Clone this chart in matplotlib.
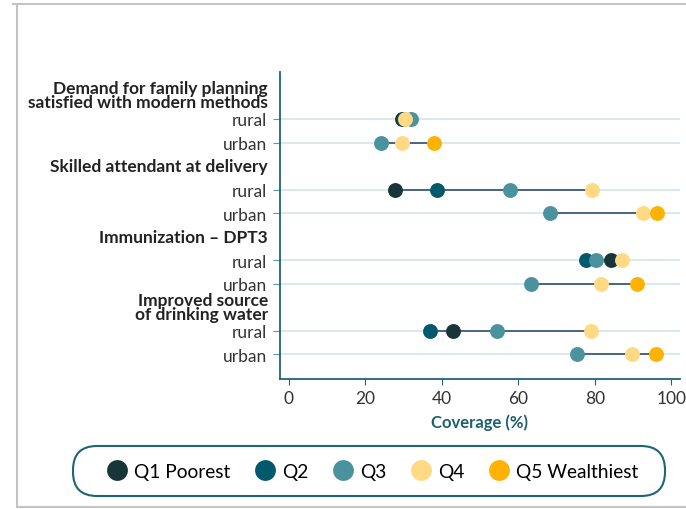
import numpy as np
import matplotlib.pyplot as plt
from matplotlib.lines import Line2D
from matplotlib.patches import FancyBboxPatch

plt.rcParams['font.family'] = ['Lato', 'DejaVu Sans']

# indicator groups and row labels
groups = ["Demand for family planning\nsatisfied with modern methods",
          "Skilled attendant at delivery",
          "Immunization \u2013 DPT3",
          "Improved source\nof drinking water"]
areas = ["rural", "urban"]
quintiles = ["Q1 Poorest", "Q2", "Q3", "Q4", "Q5 Wealthiest"]
colors = ["#18363a", "#005a6b", "#4b929f", "#ffd983", "#ffb200"]

# coverage (%) per row: rural rows have Q1-Q4, urban rows Q3-Q5 (nan = no value)
nan = np.nan
q1 = [29.5, nan, 27.7, nan, 84.1, nan, 43.0, nan]
q2 = [30.0, nan, 38.7, nan, 77.6, nan, 36.8, nan]
q3 = [31.8, 24.0, 57.7, 68.2, 80.4, 63.2, 54.5, 75.3]
q4 = [30.3, 29.5, 79.2, 92.6, 87.2, 81.7, 78.9, 89.6]
q5 = [nan, 38.0, nan, 96.2, nan, 91.0, nan, 95.9]
series = [q1, q2, q3, q4, q5]

fig = plt.figure(figsize=(6.86, 5.10), dpi=100)
ax = fig.add_axes([0.408, 0.255, 0.583, 0.602])

teal = "#1d6675"
# row positions: each group takes a header slot then rural, urban
ypos = []
for g in range(len(groups)):
    ypos += [g * 3 + 1, g * 3 + 2]
ypos = np.array(ypos)

vals = np.array(series)
for i, y in enumerate(ypos):
    row = vals[:, i]
    ax.axhline(y, color="#dbe8ee", lw=1.4, zorder=0)
    ax.plot([np.nanmin(row), np.nanmax(row)], [y, y], color="#2f4f6f", lw=1.2, zorder=1)

for k, s in enumerate(series):
    ax.scatter(s, ypos, s=115, color=colors[k], zorder=2 + k, linewidths=0)

ax.set_xlim(-2.35, 102.2)
ax.set_ylim(12.05, -1)
ax.set_yticks(ypos)
ax.set_yticklabels(areas * len(groups))
ax.set_xticks([0, 20, 40, 60, 80, 100])
ax.tick_params(axis='y', length=5, color="#5a9aa6", labelsize=12.5, labelcolor="#333333", pad=4)
ax.tick_params(axis='x', length=4, color=teal, labelsize=12.5, labelcolor="#333333", pad=4)
for side in ["top", "right"]:
    ax.spines[side].set_visible(False)
for side in ["left", "bottom"]:
    ax.spines[side].set_color(teal)
    ax.spines[side].set_linewidth(1.3)

ax.set_xlabel("Coverage (%)", fontsize=12, fontweight="bold", color="#1b6070", labelpad=5)

for g, name in enumerate(groups):
    ax.annotate(name, xy=(0, g * 3), xycoords=('axes fraction', 'data'),
                xytext=(-12, 0), textcoords='offset pixels', ha='right', va='center',
                fontsize=12.5, fontweight='bold', color="#222222", linespacing=0.85)

handles = [Line2D([], [], marker='o', ls='', markersize=15, color=c, markeredgewidth=0) for c in colors]
leg = fig.legend(handles, quintiles, loc='center', bbox_to_anchor=(0.542, 0.0745), ncol=5,
                 fontsize=13.8, frameon=False, handletextpad=0.3, columnspacing=1.2,
                 handlelength=1.2)

# rounded pill-shaped frame around the legend
pill = FancyBboxPatch((0.73, 0.13), 5.92, 0.50, boxstyle="round,pad=0,rounding_size=0.24",
                      transform=fig.dpi_scale_trans, facecolor="white", edgecolor=teal,
                      lw=1.5, zorder=0)
fig.add_artist(pill)

# thin grey frame around the figure
fig.add_artist(Line2D([13 / 686, 1], [1 - 5 / 510, 1 - 5 / 510], color="#c4c4c4", lw=1.5))
fig.add_artist(Line2D([17 / 686, 17 / 686], [1 - 5 / 510, 2 / 510], color="#c4c4c4", lw=1.5))
fig.add_artist(Line2D([17 / 686, 1], [2 / 510, 2 / 510], color="#c4c4c4", lw=1.5))

fig.savefig("out.png", dpi=100)
